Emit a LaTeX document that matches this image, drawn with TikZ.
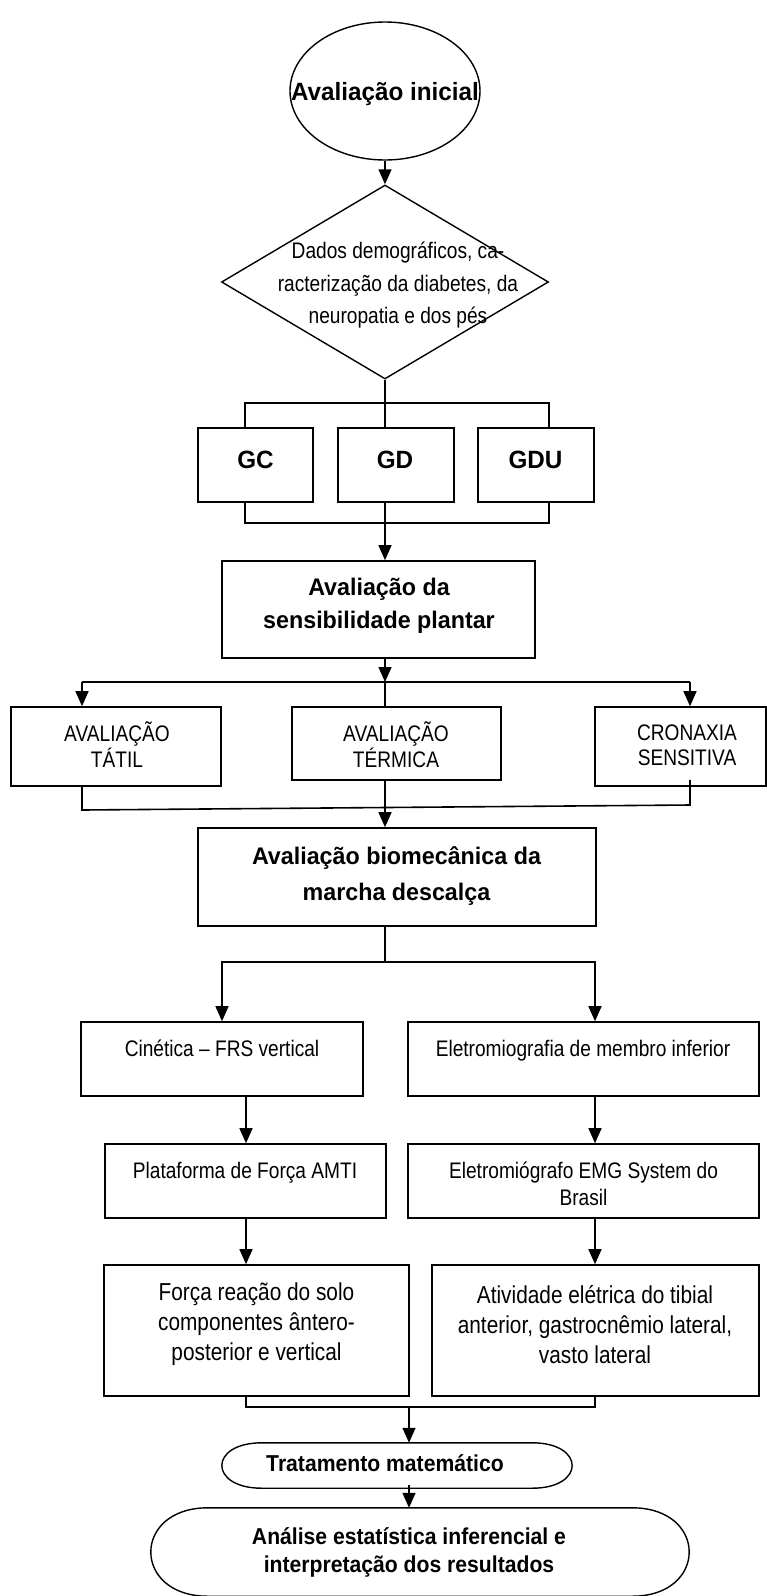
\documentclass[tikz,border=0pt]{standalone}
\usepackage{fontspec}
\setmainfont{Liberation Sans}
\newfontfamily\fontRg[FakeStretch=0.85]{Liberation Sans}
\newfontfamily\fontBd[FakeStretch=0.97]{Liberation Sans}
\newfontfamily\fontBn[FakeStretch=0.92]{Liberation Sans}
\newcommand{\myreg}[2]{\fontRg\fontsize{#1}{#2}\selectfont}
\newcommand{\mybold}[2]{\fontBd\bfseries\fontsize{#1}{#2}\selectfont}
\newcommand{\mybn}[2]{\fontBn\bfseries\fontsize{#1}{#2}\selectfont}
\usetikzlibrary{arrows.meta,shapes.geometric,calc}
\begin{document}
\begin{tikzpicture}[x=1pt,y=-1pt,
  box/.style={draw, rectangle, line width=1.6pt, inner sep=0pt},
  ln/.style={line width=1.4pt},
  arr/.style={ln, -{Triangle[length=15pt,width=13pt]}},
  txt/.style={inner sep=0pt, align=center}]
\useasboundingbox (0,0) rectangle (767,1596);
\fill[white] (0,0) rectangle (767,1596);

% shapes
\node[draw, ellipse, line width=1.4pt, inner sep=0pt, minimum width=190pt, minimum height=138pt] (ini) at (385,91) {};
\node[draw, diamond, line width=1.4pt, inner sep=0pt, minimum width=327pt, minimum height=194pt] (dia) at (385,282) {};
\node[box, minimum width=115pt, minimum height=74pt] (gc) at (255.5,465) {};
\node[box, minimum width=116pt, minimum height=74pt] (gd) at (396,465) {};
\node[box, minimum width=116pt, minimum height=74pt] (gdu) at (536,465) {};
\node[box, minimum width=313pt, minimum height=97pt] (sen) at (378.5,609.5) {};
\node[box, minimum width=210pt, minimum height=79pt] (tat) at (116,746.5) {};
\node[box, minimum width=209pt, minimum height=73pt] (ter) at (396.5,743.5) {};
\node[box, minimum width=171pt, minimum height=79pt] (cro) at (680.5,746.5) {};
\node[box, minimum width=398pt, minimum height=98pt] (bio) at (397,877) {};
\node[box, minimum width=282pt, minimum height=74pt] (cin) at (222,1059) {};
\node[box, minimum width=351pt, minimum height=74pt] (ele) at (583.5,1059) {};
\node[box, minimum width=281pt, minimum height=74pt] (pla) at (245.5,1181) {};
\node[box, minimum width=351pt, minimum height=74pt] (emg) at (583.5,1181) {};
\node[box, minimum width=305pt, minimum height=131pt] (for) at (256.5,1330.5) {};
\node[box, minimum width=327pt, minimum height=131pt] (ati) at (595.5,1330.5) {};
\node[inner sep=0pt, minimum width=350pt, minimum height=45pt] (tr) at (397,1465.5) {};
\node[inner sep=0pt, minimum width=538pt, minimum height=88pt] (an) at (420,1552) {};

\draw[line width=1.4pt] ($(tr.north west)+(40,0)$) -- ($(tr.north east)+(-40,0)$)
  .. controls ($(tr.north east)+(13.3,0)$) and ($(tr.south east)+(13.3,0)$) .. ($(tr.south east)+(-40,0)$)
  -- ($(tr.south west)+(40,0)$)
  .. controls ($(tr.south west)+(-13.3,0)$) and ($(tr.north west)+(-13.3,0)$) .. cycle;
\draw[line width=1.4pt] ($(an.north west)+(57,0)$) -- ($(an.north east)+(-57,0)$)
  .. controls ($(an.north east)+(19,0)$) and ($(an.south east)+(19,0)$) .. ($(an.south east)+(-57,0)$)
  -- ($(an.south west)+(57,0)$)
  .. controls ($(an.south west)+(-19,0)$) and ($(an.north west)+(-19,0)$) .. cycle;

% texts
\node[txt, anchor=base, font=\mybold{25}{30}] (tini) at (385,100) {Avaliação inicial};
\node[txt, font=\myreg{22.5}{32.5}] (tdia) at (398,285.5) {Dados demográficos, ca-\\racterização da diabetes, da\\neuropatia e dos pés};
\node[txt, anchor=base, font=\mybold{25}{30}] (tgc) at (255.5,468) {GC};
\node[txt, anchor=base, font=\mybold{25}{30}] (tgd) at (395,468) {GD};
\node[txt, anchor=base, font=\mybold{25}{30}] (tgdu) at (535.5,468) {GDU};
\node[txt, font=\mybold{24}{33}] (tsen) at (379,606) {Avaliação da\\sensibilidade plantar};
\node[txt, font=\myreg{22.5}{25.5}] (ttat) at (117,744.5) {AVALIAÇÃO\\TÁTIL};
\node[txt, font=\myreg{22.5}{25.5}] (tter) at (396,744.5) {AVALIAÇÃO\\TÉRMICA};
\node[txt, font=\myreg{22.5}{25.5}] (tcro) at (687,745) {CRONAXIA\\SENSITIVA};
\node[txt, font=\mybold{24}{36}] (tbio) at (396.5,876.5) {Avaliação biomecânica da\\marcha descalça};
\node[txt, anchor=base, font=\myreg{22.5}{27}] (tcin) at (222,1056) {Cinética – FRS vertical};
\node[txt, anchor=base, font=\myreg{22.5}{27}] (tele) at (583,1056) {Eletromiografia de membro inferior};
\node[txt, anchor=base, font=\myreg{22.5}{27}] (tpla) at (245,1178) {Plataforma de Força AMTI};
\node[txt, font=\myreg{22.5}{27.5}] (temg) at (583.5,1184) {Eletromiógrafo EMG System do\\Brasil};
\node[txt, font=\myreg{24.5}{30}] (tfor) at (256.5,1324.5) {Força reação do solo\\componentes ântero-\\posterior e vertical};
\node[txt, font=\myreg{24.5}{30}] (tati) at (595,1324.5) {Atividade elétrica do tibial\\anterior, gastrocnêmio lateral,\\vasto lateral};
\node[txt, anchor=base, font=\mybn{23}{28}] (ttr) at (385,1471.5) {Tratamento matemático};
\node[txt, font=\mybn{23}{28}] (tan) at (409,1552.5) {Análise estatística inferencial e\\interpretação dos resultados};

% helper coordinates
\coordinate (bT) at (385,403);
\coordinate (bB) at (385,523);
\coordinate (c245) at (245,0);
\coordinate (c549) at (549,0);
\coordinate (sb) at (385,682);
\coordinate (c82) at (82,0);
\coordinate (c690) at (690,0);
\coordinate (sL) at (82,810);
\coordinate (sR) at (690,805);
\coordinate (bb) at (385,962);
\coordinate (c222) at (222,0);
\coordinate (c595) at (595,0);
\coordinate (c246) at (246,0);
\coordinate (fb) at (409,1407);

% connectors
\draw[arr] (ini.south) -- (dia.north);
\draw[ln] (dia.south) -- (gd.north -| dia.south);
\draw[ln] (gc.north -| c245) |- (bT) -| (gdu.north -| c549);
\draw[ln] (gc.south -| c245) |- (bB) -| (gdu.south -| c549);
\draw[ln] (gd.south -| bB) -- (bB);
\draw[arr] (bB) -- (sen.north -| bB);
\draw[arr] (sen.south -| sb) -- (sb);
\draw[ln] (sb -| c82) -- (sb -| c690);
\draw[ln] (sb) -- (ter.north -| sb);
\draw[arr] (sb -| c82) -- (tat.north -| c82);
\draw[arr] (sb -| c690) -- (cro.north -| c690);
\draw[ln, line width=1.6pt] (tat.south -| c82) -- (sL) -- (sR) -- ($(cro.south -| c690)+(0,-7)$);
\draw[arr] (ter.south -| sb) -- (bio.north -| sb);
\draw[ln] (bio.south -| bb) -- (bb);
\draw[arr] (bb) -| (cin.north -| c222);
\draw[arr] (bb) -| (ele.north -| c595);
\draw[arr] (cin.south -| c246) -- (pla.north -| c246);
\draw[arr] (ele.south -| c595) -- (emg.north -| c595);
\draw[arr] (pla.south -| c246) -- (for.north -| c246);
\draw[arr] (emg.south -| c595) -- (ati.north -| c595);
\draw[ln] (for.south -| c246) -- (c246 |- fb) -- (c595 |- fb) -- (ati.south -| c595);
\draw[arr] (fb) -- (tr.north -| fb);
\draw[arr] ($(tr.south -| fb)+(0,-3)$) -- (an.north -| fb);
\end{tikzpicture}
\end{document}
